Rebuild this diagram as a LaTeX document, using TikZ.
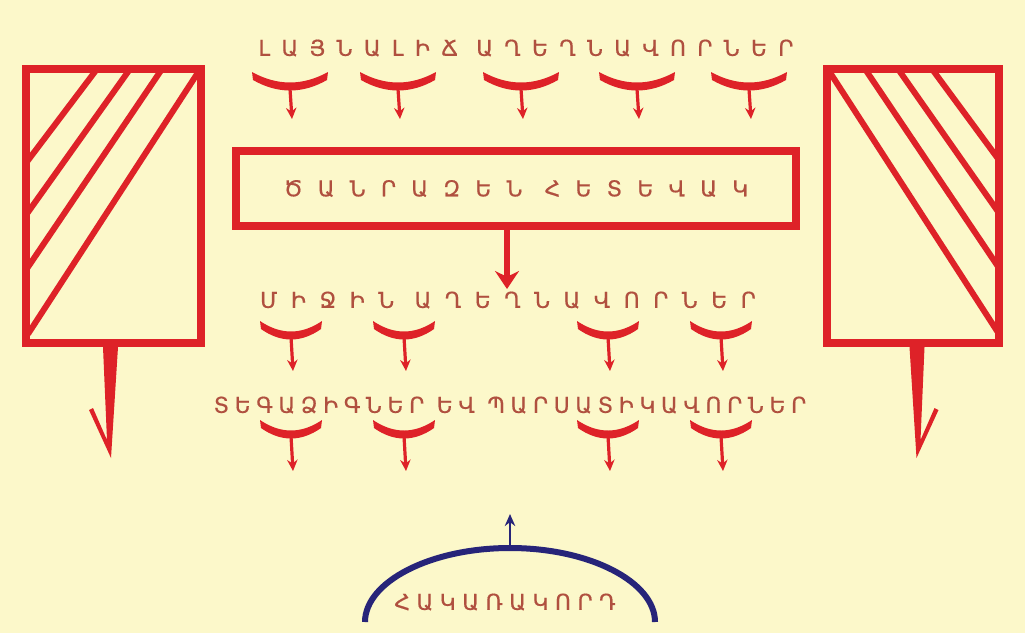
\documentclass[tikz,border=0pt]{standalone}
\usepackage{fontspec}
\newfontfamily\armfont[FakeBold=0.6]{DejaVu Sans}
\usetikzlibrary{arrows.meta,positioning}
\definecolor{Paper}{HTML}{FCF8CA}
\definecolor{Scarlet}{HTML}{DE2228}
\definecolor{Rust}{HTML}{B0503F}
\definecolor{Navy}{HTML}{272479}
\tikzset{
  troop/.style={
    font={\armfont\addfontfeature{LetterSpace=#1}\fontsize{15.5}{17}\selectfont},
    text=Rust, inner sep=0pt
  },
  flank/.style={
    draw=Scarlet, line width=0.2cm, minimum height=6.85cm, inner sep=0pt
  },
  stripe/.style={draw=Scarlet, line width=0.15cm},
  stem/.style={-{Stealth[length=0.28cm,width=0.26cm]}, draw=Scarlet, line width=0.08cm},
  push/.style={-{Stealth[length=0.45cm,width=0.6cm]}, draw=Scarlet, line width=0.16cm},
  scout/.style={-{Stealth[length=0.3cm,width=0.26cm]}, draw=Navy, line width=0.06cm}
}
% bow: centre x, top of the ends, half width
\newcommand{\bowarc}[3]{%
  \fill[Scarlet] (#1-#3,#2) .. controls (#1-#3/3,#2+14) and (#1+#3/3,#2+14) .. (#1+#3,#2)
    -- (#1+#3-1,#2+8) .. controls (#1+#3/3,#2+22) and (#1-#3/3,#2+22) .. (#1-#3+1,#2+8) -- cycle;}

\begin{document}
\begin{tikzpicture}[x=0.025cm,y=-0.025cm]
  \fill[Paper] (0,0) rectangle (1025,633);
  \useasboundingbox (0,0) rectangle (1025,633);

  % flanks
  \node[flank,minimum width=4.375cm] (lflank) at (113.5,206) {};
  \node[flank,minimum width=4.3cm] (rflank) at (913,206) {};
  \draw[stripe] (97,69) -- (26,163);
  \draw[stripe] (130,69) -- (26,215);
  \draw[stripe] (162,69) -- (26,270);
  \draw[stripe] (199,71) -- (28,334);
  \draw[stripe] (829,71) -- (999,334);
  \draw[stripe] (865,69) -- (999,268);
  \draw[stripe] (898,69) -- (999,213);
  \draw[stripe] (932,69) -- (999,160);
  \fill[Scarlet] (103,347) -- (118,347) -- (111,458) -- (89,410) -- (93,408) -- (107,440) -- cycle;
  \fill[Scarlet] (924.5,347) -- (909.5,347) -- (916.5,458) -- (938.5,410) -- (934.5,408) -- (920.5,440) -- cycle;

  % centre
  \node[troop=52] (archers) at (526,48) {ԼԱՅՆԱԼԻՃ ԱՂԵՂՆԱՎՈՐՆԵՐ};
  \node[troop=70,draw=Scarlet,line width=0.2cm,minimum width=14cm,minimum height=1.875cm]
    (infantry) at (516,188.5) {ԾԱՆՐԱԶԵՆ ՀԵՏԵՎԱԿ};
  \coordinate (advance) at (507,289);
  \draw[push] (infantry.south -| advance) -- (advance);
  \node[troop=62] (midarchers) at (508,300) {ՄԻՋԻՆ ԱՂԵՂՆԱՎՈՐՆԵՐ};
  \node[troop=26] (slingers) at (510,405) {ՏԵԳԱՁԻԳՆԵՐ ԵՎ ՊԱՐՍԱՏԻԿԱՎՈՐՆԵՐ};

  \foreach \cx [count=\i] in {290,398,521,637,749} {
    \bowarc{\cx}{72}{38}
    \coordinate (a\i) at (\cx,89);
    \coordinate (b\i) at (\cx+2,119);
    \draw[stem] (a\i) -- (b\i);
  }
  \foreach \cx [count=\i] in {291,404,608,721} {
    \bowarc{\cx}{321}{31}
    \coordinate (c\i) at (\cx,337);
    \coordinate (d\i) at (\cx+2,371);
    \draw[stem] (c\i) -- (d\i);
    \bowarc{\cx}{420}{31}
    \coordinate (e\i) at (\cx,436);
    \coordinate (f\i) at (\cx+2,471);
    \draw[stem] (e\i) -- (f\i);
  }

  % enemy
  \coordinate (crest) at (510,548);
  \coordinate (probe) at (510,514);
  \draw[Navy,line width=0.15cm] (365,622) .. controls (365,582) and (430,548) .. (crest)
    .. controls (590,548) and (655,582) .. (655,622);
  \draw[scout] (crest) -- (probe);
  \node[troop=30] (enemy) at (505,602) {ՀԱԿԱՌԱԿՈՐԴ};
\end{tikzpicture}
\end{document}
